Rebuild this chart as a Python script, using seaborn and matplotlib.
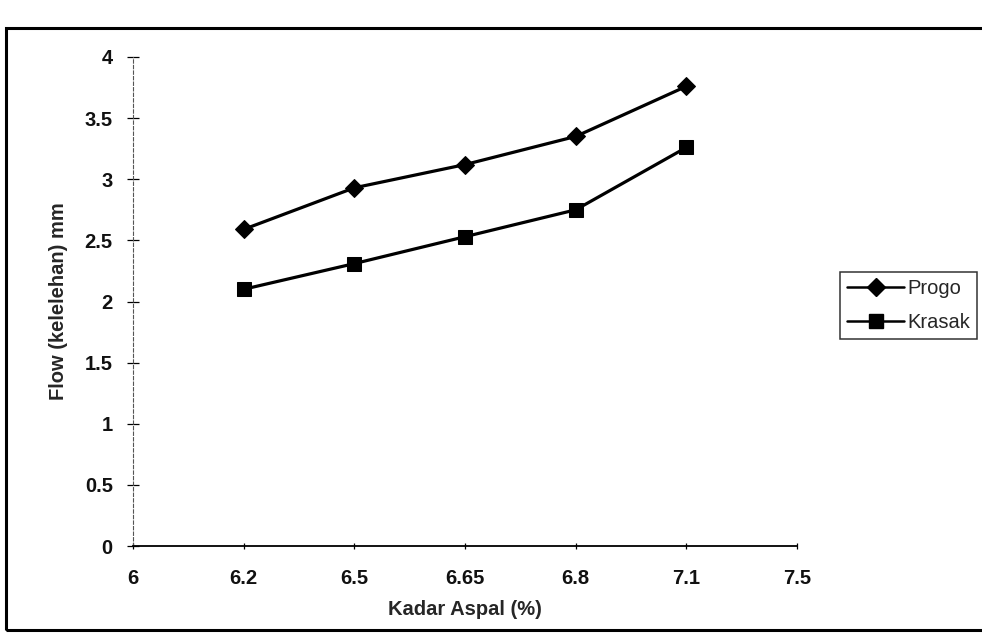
import matplotlib
matplotlib.use("Agg")
import matplotlib.pyplot as plt
from matplotlib.patches import Rectangle
from matplotlib.lines import Line2D
import seaborn as sns
import pandas as pd

# Asphalt content categories on the x axis (evenly spaced)
kadar_labels = ["6", "6.2", "6.5", "6.65", "6.8", "7.1", "7.5"]
kadar_measured = ["6.2", "6.5", "6.65", "6.8", "7.1"]

# Flow values (mm) for each aggregate source
flow_progo = [2.59, 2.93, 3.12, 3.35, 3.76]
flow_krasak = [2.10, 2.31, 2.53, 2.75, 3.26]

y_ticks = [0, 0.5, 1, 1.5, 2, 2.5, 3, 3.5, 4]
y_tick_labels = ["0", "0.5", "1", "1.5", "2", "2.5", "3", "3.5", "4"]

sns.set_theme(style="white")
plt.rcParams["font.family"] = ["Liberation Sans", "DejaVu Sans"]

pos = {lab: i for i, lab in enumerate(kadar_labels)}
df = pd.DataFrame({
    "pos": [pos[k] for k in kadar_measured] * 2,
    "flow": flow_progo + flow_krasak,
    "seri": ["Progo"] * len(flow_progo) + ["Krasak"] * len(flow_krasak),
})

fig = plt.figure(figsize=(9.82, 6.33), dpi=100)
ax = fig.add_axes([133 / 982, 1 - 546 / 633, (797 - 133) / 982, (546 - 57) / 633])

sns.lineplot(
    data=df, x="pos", y="flow", hue="seri", style="seri",
    markers={"Progo": "D", "Krasak": "s"}, dashes=False,
    palette={"Progo": "black", "Krasak": "black"},
    markersize=10, linewidth=2.3, markeredgecolor="black",
    ax=ax, legend=False,
)
for line, ms in zip(ax.lines, [9, 10.5]):
    line.set_markersize(ms)

ax.set_xlim(0, len(kadar_labels) - 1)
ax.set_ylim(0, 4)
ax.set_xticks(range(len(kadar_labels)))
ax.set_xticklabels(kadar_labels)
ax.set_yticks(y_ticks)
ax.set_yticklabels(y_tick_labels)

for s in ["top", "right"]:
    ax.spines[s].set_visible(False)
ax.spines["bottom"].set_color("black")
ax.spines["bottom"].set_linewidth(1.3)
ax.spines["left"].set_color("#555555")
ax.spines["left"].set_linewidth(0.8)
ax.spines["left"].set_linestyle((0, (3, 2)))

ax.tick_params(axis="y", direction="inout", length=9, width=0.9, color="black",
               labelsize=14.5, pad=10, left=True)
ax.tick_params(axis="x", direction="inout", length=5, width=0.9, color="black",
               labelsize=14.5, pad=14, bottom=True)
for t in ax.get_xticklabels() + ax.get_yticklabels():
    t.set_fontweight("bold")
    t.set_color("#111111")

ax.set_xlabel("Kadar Aspal (%)", fontsize=14.5, fontweight="bold", labelpad=9)
ax.set_ylabel("Flow (kelelehan) mm", fontsize=14.5, fontweight="bold", labelpad=12)
ax.set_facecolor("none")

# Legend with line + marker handles
handles = [
    Line2D([], [], color="black", marker="D", markersize=9, linewidth=1.8),
    Line2D([], [], color="black", marker="s", markersize=10, linewidth=1.8),
]
leg = fig.legend(handles, ["Progo", "Krasak"], loc="upper left",
                 bbox_to_anchor=(840 / 982, 1 - 272 / 633),
                 frameon=True, fancybox=False, fontsize=14.5,
                 handlelength=2.85, handletextpad=0.15, borderpad=0.35,
                 labelspacing=0.75, borderaxespad=0)
leg.get_frame().set_edgecolor("black")
leg.get_frame().set_linewidth(1.1)

# Outer chart frame
fig.patches.append(Rectangle((6 / 982, 3 / 633), 1.0, 1 - 3 / 633 - 28 / 633,
                             transform=fig.transFigure, fill=False,
                             edgecolor="black", linewidth=2.2))

fig.savefig("out.png", dpi=100)
